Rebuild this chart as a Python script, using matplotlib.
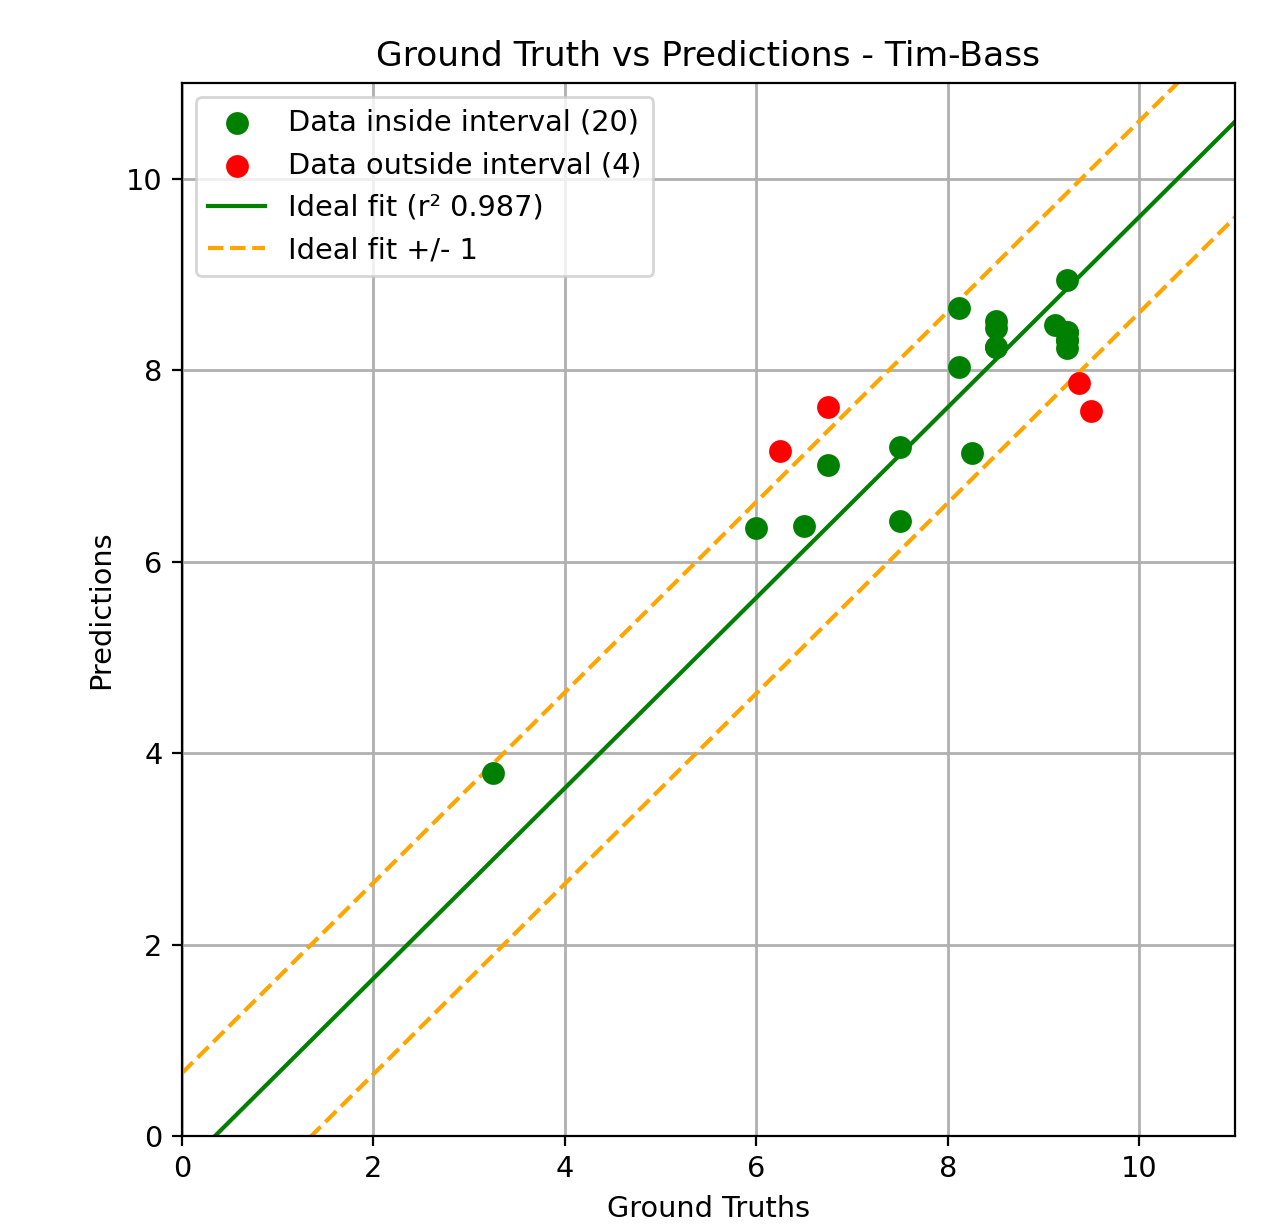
import numpy as np
import matplotlib
matplotlib.use("Agg")
import matplotlib.pyplot as plt

# Data
inside_x = [3.25, 6.0, 6.5, 6.75, 7.5, 7.5, 8.25, 8.12, 8.12, 8.5, 8.5, 8.5, 8.5,
            9.12, 9.25, 9.25, 9.25, 9.25, 9.25, 9.25]
inside_y = [3.79, 6.35, 6.37, 7.01, 7.20, 6.42, 7.14, 8.65, 8.03, 8.51, 8.44, 8.24, 8.24,
            8.47, 8.94, 8.40, 8.32, 8.23, 8.40, 8.32]
outside_x = [6.25, 6.75, 9.37, 9.5]
outside_y = [7.16, 7.62, 7.87, 7.57]
fit_slope = 0.9945
fit_intercept = -0.343
r2 = 0.987
title = "Ground Truth vs Predictions - Tim-Bass"

plt.rcParams["font.size"] = 10.35

fig = plt.figure(figsize=(6.425, 6.15), dpi=200)
ax = fig.add_axes([0.1416, 0.0764, 0.8195, 0.8561])

ax.scatter(inside_x, inside_y, color="green", s=52, label=f"Data inside interval ({len(inside_x)})", zorder=3)
ax.scatter(outside_x, outside_y, color="red", s=52, label=f"Data outside interval ({len(outside_x)})", zorder=3)

xs = np.array([0, 11.5])
ax.plot(xs, fit_slope * xs + fit_intercept, color="green", lw=1.5, label=f"Ideal fit (r² {r2})")
ax.plot(xs, fit_slope * xs + fit_intercept + 1, color="orange", ls="--", lw=1.5, label="Ideal fit +/- 1")
ax.plot(xs, fit_slope * xs + fit_intercept - 1, color="orange", ls="--", lw=1.5)

ax.set_xlim(0, 11)
ax.set_ylim(0, 11)
ax.set_xticks([0, 2, 4, 6, 8, 10])
ax.set_yticks([0, 2, 4, 6, 8, 10])
ax.grid(True, color="#b0b0b0", lw=1.0)
ax.set_axisbelow(True)
ax.set_xlabel("Ground Truths")
ax.set_ylabel("Predictions")
ax.set_title(title)
ax.legend(loc="upper left")

fig.savefig("out.png", dpi=200)
